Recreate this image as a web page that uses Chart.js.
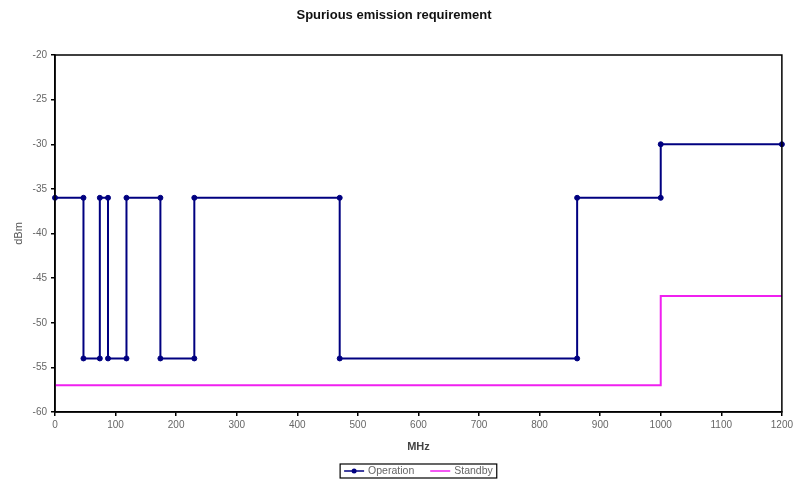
<!DOCTYPE html>
<html>
<head>
<meta charset="utf-8">
<title>Spurious emission requirement</title>
<script src="https://cdn.jsdelivr.net/npm/chart.js@4"></script>
<style>
    html, body { margin: 0; padding: 0; background: #fff; }
    #wrap { width: 796px; height: 482px; position: relative; }
</style>
</head>
<body>
<div id="wrap"><canvas id="emissionChart"></canvas></div>
<script>
// frequency (MHz) / level (dBm) pairs
const opFreq = [0, 47, 47, 74, 74, 87.5, 87.5, 118, 118, 174, 174, 230, 230, 470, 470, 862, 862, 1000, 1000, 1200];
const opDbm  = [-36, -36, -54, -54, -36, -36, -54, -54, -36, -36, -54, -54, -36, -36, -54, -54, -36, -36, -30, -30];

const sbFreq = [0, 1000, 1000, 1200];
const sbDbm  = [-57, -57, -47, -47];

const seriesNames = ["Operation", "Standby"];
const xTicks = { min: 0, max: 1200, step: 100 };
const yTicks = { min: -60, max: -20, step: 5 };

const FONT = "Arial, 'Liberation Sans', sans-serif";

function toPoints(xs, ys) {
    return xs.map((x, i) => ({ x: x, y: ys[i] }));
}

// box round the plot area, like the excel chart
const frameBox = {
    id: "frameBox",
    afterDatasetsDraw(chart) {
        const { ctx, chartArea: a } = chart;
        ctx.save();
        ctx.strokeStyle = "#000";
        ctx.lineWidth = 1.5;
        ctx.strokeRect(a.left, a.top, a.right - a.left, a.bottom - a.top);
        ctx.restore();
    }
};

// legend with a border, centred under the plot
const boxedLegend = {
    id: "boxedLegend",
    afterDraw(chart) {
        const ctx = chart.ctx;
        const area = chart.chartArea;
        const sets = chart.data.datasets;
        ctx.save();
        ctx.font = "10.5px " + FONT;
        ctx.textBaseline = "middle";
        const lineLen = 20, gap = 4, itemGap = 16, padX = 4;
        let total = padX * 2;
        sets.forEach((ds, i) => {
            total += lineLen + gap + ctx.measureText(ds.label).width;
            if (i < sets.length - 1) total += itemGap;
        });
        const cx = (area.left + area.right) / 2, cy = 471, h = 14;
        let x = cx - total / 2;
        ctx.strokeStyle = "#000";
        ctx.lineWidth = 1.2;
        ctx.strokeRect(x, cy - h / 2, total, h);
        x += padX;
        sets.forEach((ds) => {
            ctx.strokeStyle = ds.borderColor;
            ctx.lineWidth = 1.5;
            ctx.beginPath();
            ctx.moveTo(x, cy);
            ctx.lineTo(x + lineLen, cy);
            ctx.stroke();
            if (ds.pointRadius > 0) {
                ctx.fillStyle = ds.pointBackgroundColor;
                ctx.beginPath();
                ctx.arc(x + lineLen / 2, cy, 2.5, 0, Math.PI * 2);
                ctx.fill();
            }
            x += lineLen + gap;
            ctx.fillStyle = "#666";
            ctx.fillText(ds.label, x, cy + 0.5);
            x += ctx.measureText(ds.label).width + itemGap;
        });
        ctx.restore();
    }
};

document.addEventListener("DOMContentLoaded", function () {
    const ctx = document.getElementById("emissionChart");

    new Chart(ctx, {
        type: "line",
        data: {
            datasets: [{
                label: seriesNames[0],
                data: toPoints(opFreq, opDbm),
                borderColor: "#000080",
                backgroundColor: "#000080",
                pointBackgroundColor: "#000080",
                pointBorderColor: "#000080",
                borderWidth: 2,
                pointRadius: 2.5,
                pointBorderWidth: 1,
                tension: 0,
                clip: false
            }, {
                label: seriesNames[1],
                data: toPoints(sbFreq, sbDbm),
                borderColor: "#f020f0",
                backgroundColor: "#f020f0",
                borderWidth: 2,
                pointRadius: 0,
                tension: 0,
                clip: false
            }]
        },
        options: {
            responsive: true,
            maintainAspectRatio: false,
            animation: false,
            layout: {
                padding: { top: 0, left: 0, right: 8, bottom: 30 }
            },
            plugins: {
                legend: { display: false },
                tooltip: { enabled: false },
                title: {
                    display: true,
                    text: "Spurious emission requirement",
                    color: "#111",
                    font: { family: FONT, size: 13, weight: "bold" },
                    padding: { top: 8, bottom: 31.4 }
                }
            },
            scales: {
                x: {
                    type: "linear",
                    min: xTicks.min,
                    max: xTicks.max,
                    grid: { drawOnChartArea: false, drawTicks: true, tickLength: 4, color: "#000", lineWidth: 1.5 },
                    border: { color: "#000", width: 1.5 },
                    ticks: {
                        stepSize: xTicks.step,
                        color: "#666",
                        padding: 3,
                        maxRotation: 0,
                        font: { family: FONT, size: 10 },
                        callback: (v) => String(v)
                    },
                    title: {
                        display: true,
                        text: "MHz",
                        color: "#444",
                        font: { family: FONT, size: 11, weight: "bold" },
                        padding: { top: 0, bottom: -1.5 }
                    },
                    afterFit(scale) { scale.height = 40; }
                },
                y: {
                    min: yTicks.min,
                    max: yTicks.max,
                    grid: { drawOnChartArea: false, drawTicks: true, tickLength: 4, color: "#000", lineWidth: 1.5 },
                    border: { color: "#000", width: 1.5 },
                    ticks: {
                        stepSize: yTicks.step,
                        color: "#666",
                        padding: 4,
                        font: { family: FONT, size: 10 },
                        callback: (v) => String(v)
                    },
                    title: {
                        display: true,
                        text: "dBm",
                        color: "#555",
                        font: { family: FONT, size: 11 },
                        padding: { top: 12.4, bottom: 0 }
                    },
                    afterFit(scale) { scale.width = 55; }
                }
            }
        },
        plugins: [frameBox, boxedLegend]
    });
});
</script>
</body>
</html>
